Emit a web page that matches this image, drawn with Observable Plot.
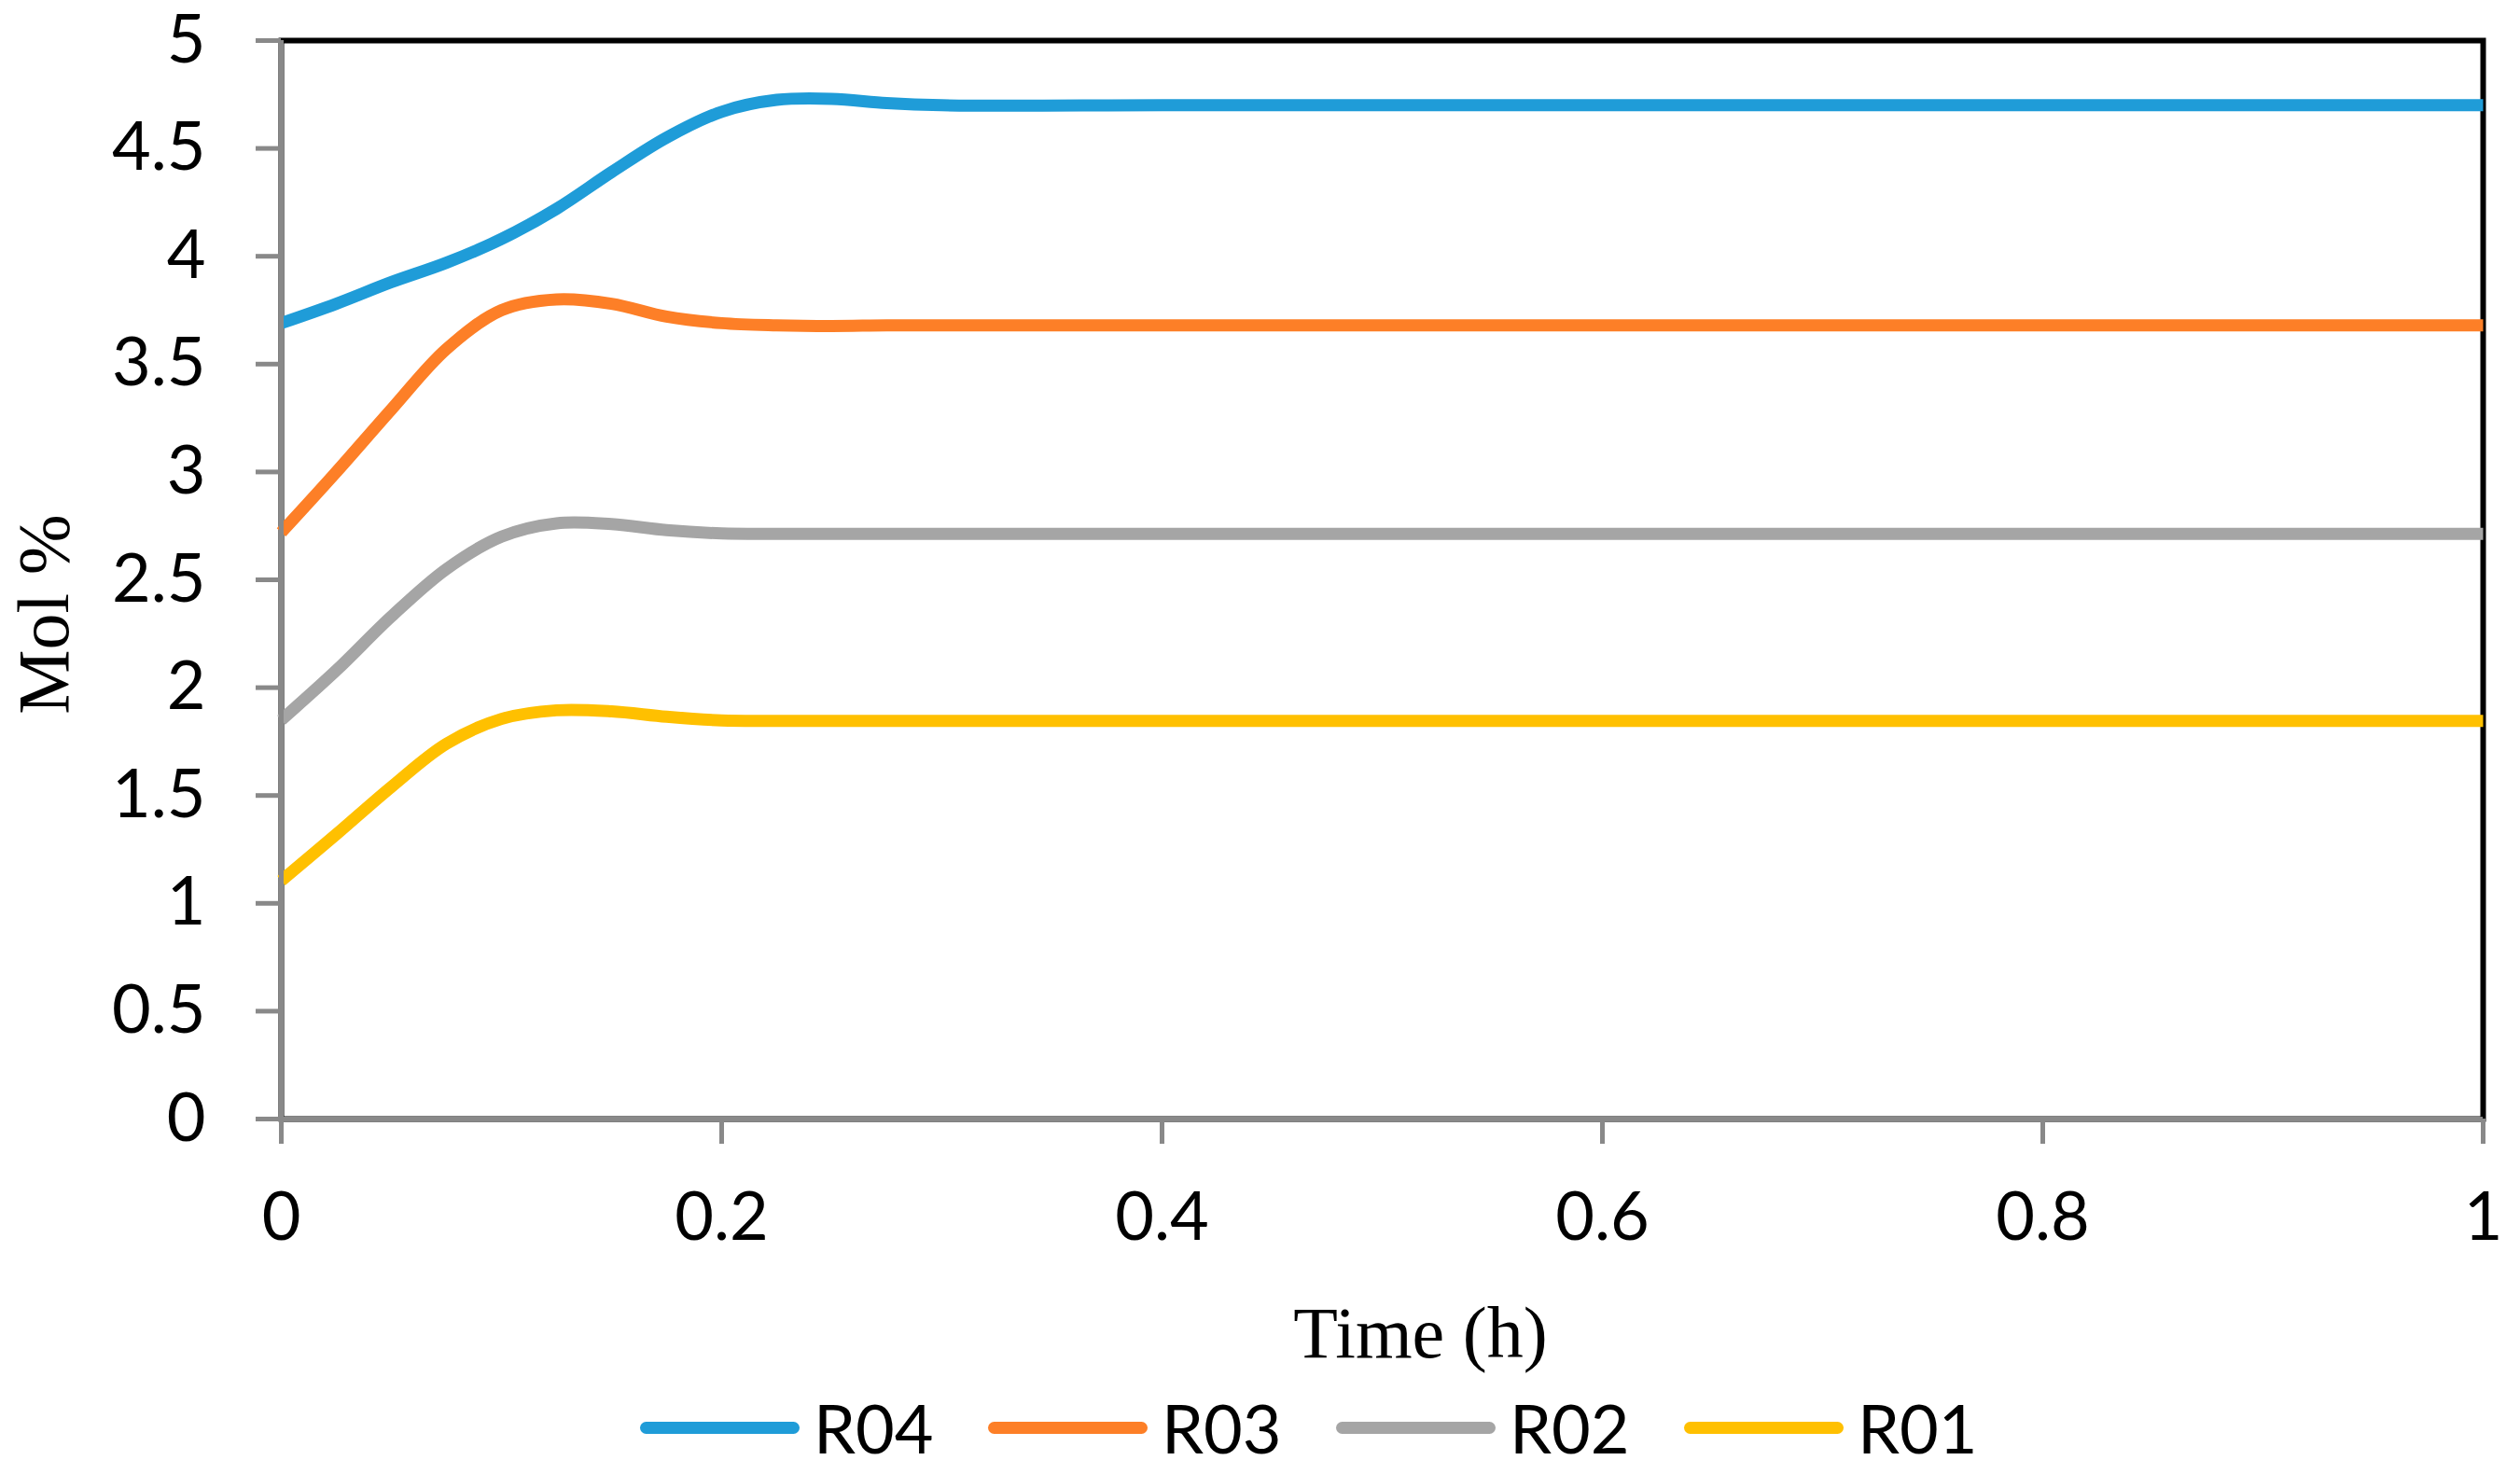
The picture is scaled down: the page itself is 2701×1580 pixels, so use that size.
<!DOCTYPE html>
<html>
<head>
<meta charset="utf-8">
<script src="https://cdn.jsdelivr.net/npm/d3@7"></script>
<script src="https://cdn.jsdelivr.net/npm/@observablehq/plot@0.6"></script>
<style>
  html, body { margin: 0; padding: 0; background: #ffffff; }
  body { width: 2701px; height: 1580px; overflow: hidden; }
  #chart svg { overflow: visible; }
  #legend { display: flex; align-items: center; height: 100px; padding-left: 686px; box-sizing: border-box; }
  .item { width: 373px; display: flex; align-items: center; flex: none; }
  .sw { width: 171px; height: 13px; border-radius: 6.5px; margin-right: 15px; flex: none; }
  .lab { font-family: Lato, "Open Sans", sans-serif; font-size: 72px; line-height: 1; color: #000; }
</style>
</head>
<body>
<div id="chart"></div>
<div id="legend"></div>
<script>
// ---- data ----
const time = [0, 0.025, 0.05, 0.075, 0.1, 0.125, 0.15, 0.175, 0.2, 0.225, 0.25, 0.275, 0.3, 0.4, 0.5, 0.6, 0.7, 0.8, 0.9, 1];
const R04 = [3.69, 3.78, 3.88, 3.97, 4.08, 4.22, 4.39, 4.55, 4.67, 4.725, 4.73, 4.71, 4.70, 4.70, 4.70, 4.70, 4.70, 4.70, 4.70, 4.70];
const R03 = [2.72, 3.00, 3.29, 3.57, 3.75, 3.80, 3.78, 3.72, 3.69, 3.68, 3.677, 3.68, 3.68, 3.68, 3.68, 3.68, 3.68, 3.68, 3.68, 3.68];
const R02 = [1.85, 2.08, 2.33, 2.55, 2.70, 2.762, 2.758, 2.73, 2.715, 2.713, 2.713, 2.713, 2.713, 2.713, 2.713, 2.713, 2.713, 2.713, 2.713, 2.713];
const R01 = [1.105, 1.32, 1.54, 1.74, 1.855, 1.895, 1.89, 1.865, 1.848, 1.846, 1.846, 1.846, 1.846, 1.846, 1.846, 1.846, 1.846, 1.846, 1.846, 1.846];
const seriesNames = ["R04", "R03", "R02", "R01"];
const seriesColors = ["#1f9cd8", "#fd7f27", "#a5a5a5", "#ffc000"];
const xTicks = [0, 0.2, 0.4, 0.6, 0.8, 1];
const yTicks = [0, 0.5, 1, 1.5, 2, 2.5, 3, 3.5, 4, 4.5, 5];
const xTickLabels = ["0", "0.2", "0.4", "0.6", "0.8", "1"];
const yTickLabels = ["0", "0.5", "1", "1.5", "2", "2.5", "3", "3.5", "4", "4.5", "5"];
const xTitle = "Time (h)";
const yTitle = "Mol %";

const seriesValues = {R04, R03, R02, R01};
const rows = seriesNames.flatMap(s => time.map((t, i) => ({s, t, v: seriesValues[s][i]})));

const axisGray = "#898989";
const chart = Plot.plot({
  width: 2701,
  height: 1480,
  marginLeft: 301,
  marginRight: 40,
  marginTop: 43,
  marginBottom: 281,
  style: {fontFamily: "Lato, 'Open Sans', sans-serif", fontSize: "72px", color: "#000", background: "#fff"},
  x: {domain: [0, 1]},
  y: {domain: [0, 5]},
  color: {domain: seriesNames, range: seriesColors},
  marks: [
    Plot.frame({stroke: "#000", strokeWidth: 6}),
    Plot.lineY(rows, {x: "t", y: "v", z: "s", stroke: "s", strokeWidth: 13, curve: "catmull-rom", strokeLinecap: "butt"}),
    Plot.ruleX([0], {stroke: axisGray, strokeWidth: 5}),
    Plot.ruleY([0], {stroke: axisGray, strokeWidth: 5}),
    Plot.axisY({ticks: yTicks, tickFormat: (d, i) => yTickLabels[i], tickSize: 27, tickPadding: 54, stroke: axisGray, strokeWidth: 5, fontSize: 72, label: null}),
    Plot.axisX({ticks: xTicks, tickFormat: (d, i) => xTickLabels[i], tickSize: 27, tickPadding: 51, stroke: axisGray, strokeWidth: 5, fontSize: 72, label: null}),
    Plot.text([yTitle], {text: d => d, frameAnchor: "left", textAnchor: "middle", rotate: -90, dx: -253, dy: 37, fontFamily: "'Liberation Serif', serif", fontSize: 78, lineAnchor: "middle", fill: "#000"}),
    Plot.text([xTitle], {text: d => d, frameAnchor: "bottom", textAnchor: "middle", dx: 41, dy: 231, fontFamily: "'Liberation Serif', serif", fontSize: 78, lineAnchor: "middle", fill: "#000"})
  ]
});
document.getElementById("chart").appendChild(chart);

const legend = document.getElementById("legend");
seriesNames.forEach((s, i) => {
  const item = document.createElement("div");
  item.className = "item";
  const sw = document.createElement("span");
  sw.className = "sw";
  sw.style.background = seriesColors[i];
  const lab = document.createElement("span");
  lab.className = "lab";
  lab.textContent = s;
  item.appendChild(sw);
  item.appendChild(lab);
  legend.appendChild(item);
});
</script>
</body>
</html>
